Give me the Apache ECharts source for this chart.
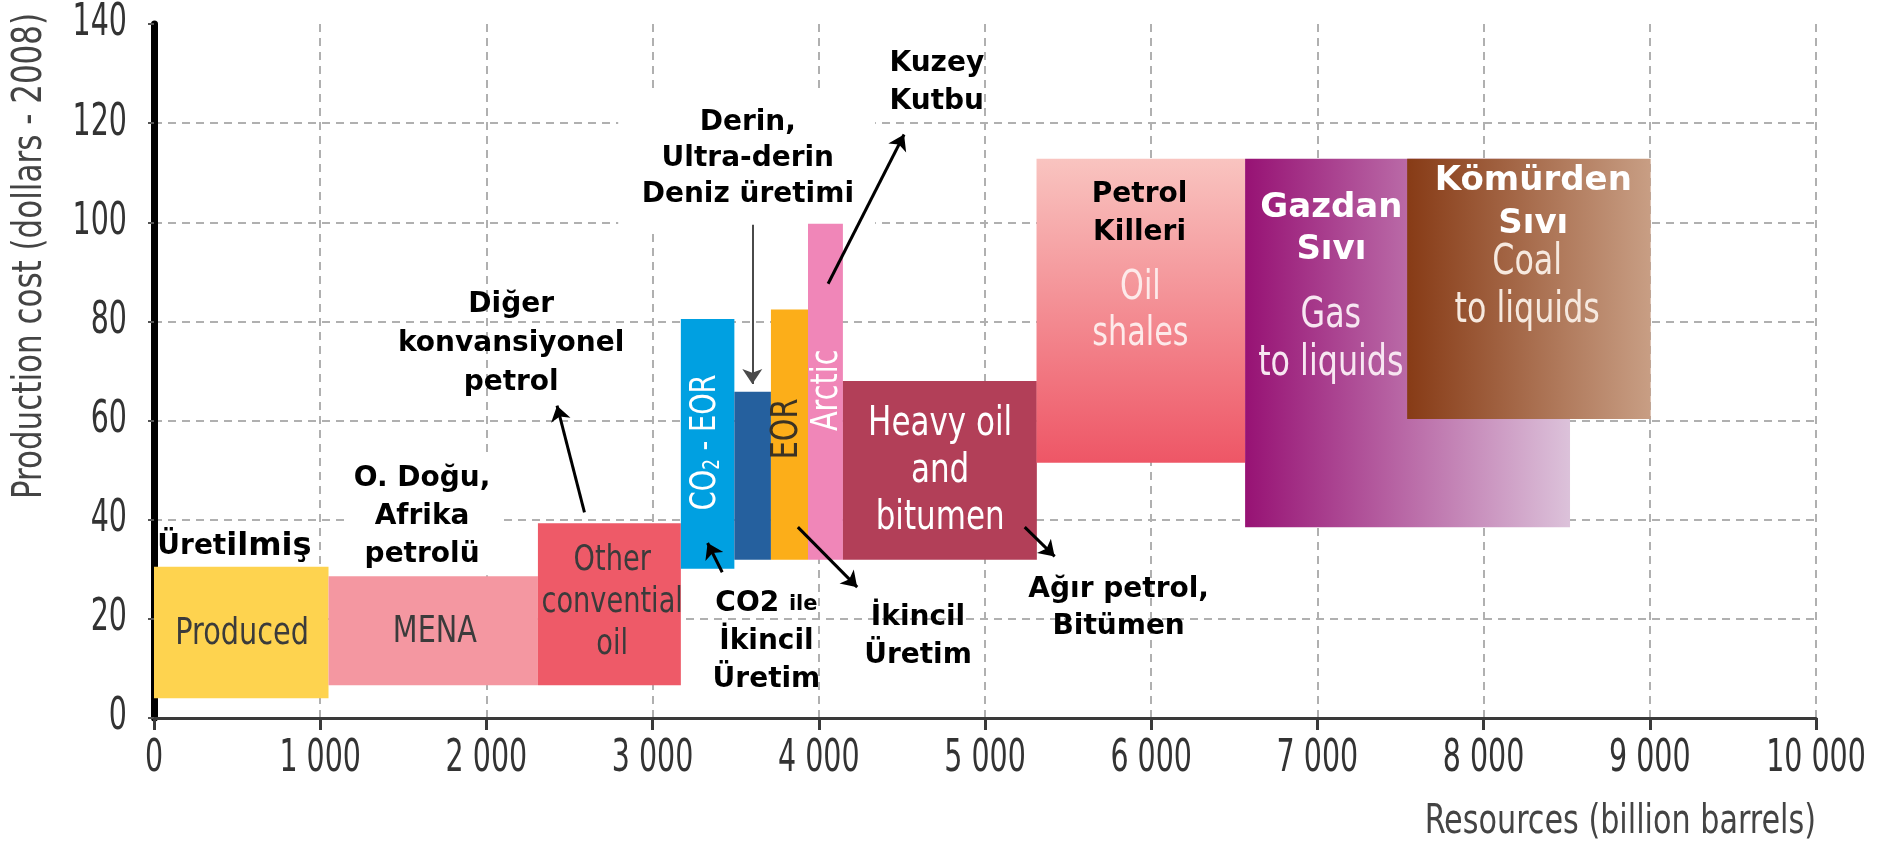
<!DOCTYPE html>
<html>
<head>
<meta charset="utf-8">
<script src="https://cdn.jsdelivr.net/npm/echarts@6/dist/echarts.min.js"></script>
<style>
html, body { margin: 0; padding: 0; background: #fff; }
#chart { width: 1888px; height: 844px; }
</style>
</head>
<body>
<div id="chart"></div>
<script>
// kaynaklar (milyar varil) ve üretim maliyeti (dolar - 2008)
const segNames = ['Produced', 'MENA', 'Other conventional oil', 'CO2 - EOR', 'Deep water', 'EOR', 'Arctic',
  'Heavy oil and bitumen', 'Oil shales', 'Gas to liquids', 'Coal to liquids'];
const resStart = [0, 1050, 2310, 3170, 3492, 3712, 3935, 4145, 5310, 6565, 7540];
const resEnd = [1050, 2310, 3170, 3492, 3712, 3935, 4145, 5312, 6565, 8520, 9005];
const costLow = [4, 6.6, 6.6, 30.1, 31.9, 31.9, 31.9, 31.9, 51.5, 38.5, 60.3];
const costHigh = [30.5, 28.6, 39.3, 80.5, 65.8, 82.4, 99.7, 68, 112.8, 112.8, 112.8];

const xTicks = [0, 1000, 2000, 3000, 4000, 5000, 6000, 7000, 8000, 9000, 10000];
const xTickLabels = ['0', '1 000', '2 000', '3 000', '4 000', '5 000', '6 000', '7 000', '8 000', '9 000', '10 000'];
const yTicks = [0, 20, 40, 60, 80, 100, 120, 140];
const yTickLabels = ['0', '20', '40', '60', '80', '100', '120', '140'];

// kutuların içindeki yazılar
const boxLabelText = ['Produced', 'MENA', 'Other\nconvential\noil', '{a|CO}{s|2}{a| - EOR}', 'EOR', 'Arctic',
  'Heavy oil\nand\nbitumen', 'Oil\nshales', 'Gas\nto liquids', 'Coal\nto liquids'];
const boxLabelX = [530, 1690, 2757, 3320, 3810, 4050, 4730, 5935, 7081, 8262];
const boxLabelY = [17, 17.3, 23.2, 55.6, 58.3, 66.1, 49.8, 82, 76.2, 87];

// Türkçe açıklamalar
const noteText = ['{a|Üret}{b|ilmiş}', 'O. Doğu,\nAfrika\npetrolü', 'Diğer\nkonvansiyonel\npetrol',
  'Derin,\nUltra-derin\nDeniz üretimi', 'Kuzey\nKutbu', '{a|CO2 }{s|ile}\n{a|İkincil}\n{a|Üretim}',
  'İkincil\nÜretim', 'Ağır petrol,\nBitümen', 'Petrol\nKilleri', 'Gazdan\nSıvı', 'Kömürden\nSıvı'];
const noteX = [484, 1613, 2149, 3573, 4710, 3685, 4597, 5804, 5930, 7084, 8299];
const noteY = [34.5, 40.7, 75.5, 112.8, 128.2, 15.3, 16.3, 22.2, 101.8, 98.6, 104];

// oklar
const arrowFrom = [[2590, 41.5], [3600, 99.5], [4056, 87.6], [3419, 29.4], [3874, 38.5], [5239, 38.5]];
const arrowTo = [[2425, 63], [3600, 67.4], [4513, 117.7], [3331, 35.3], [4231, 26.4], [5419, 32.6]];

const narrow = '"DejaVu Sans Condensed", "Liberation Sans", sans-serif';
const boldFont = '"DejaVu Sans", sans-serif';
const squeeze = 0.84; // dar yazı görünümü için
const G = echarts.graphic;

const fills = ['#fed34f', '#f497a1', '#ee5a68', '#00a0e1', '#25609e', '#fcae19', '#f086b8', '#b23f58',
  new G.LinearGradient(0, 0, 0, 1, [{ offset: 0, color: '#f9c4c0' }, { offset: 1, color: '#ee5666' }]),
  new G.LinearGradient(0, 0, 1, 0, [{ offset: 0, color: '#971274' }, { offset: 1, color: '#dcc2da' }]),
  new G.LinearGradient(0, 0, 1, 0, [{ offset: 0, color: '#873b16' }, { offset: 1, color: '#c89e84' }])];

const boxLabelStyle = [
  { size: 38, color: '#3b3b3b' }, { size: 38, color: '#3b3b3b' }, { size: 36, lh: 42, color: '#3b3b3b' },
  { size: 36, color: '#fff', rot: true }, { size: 38, color: '#3b3324', rot: true }, { size: 38, color: '#fff', rot: true },
  { size: 41, lh: 47, color: '#fff' }, { size: 40, lh: 46, color: '#fdeaea' },
  { size: 42, lh: 48, color: '#f7e6f1' }, { size: 42, lh: 48, color: '#f6e9df' }];
const noteStyle = [
  {}, { lh: 38, bg: true }, { lh: 39 }, { lh: 36 }, { lh: 38 }, { lh: 38 }, { lh: 38 }, { lh: 37 }, { lh: 38 },
  { size: 34, lh: 42, color: '#fff' }, { size: 34, lh: 43, color: '#fff' }];

function rectItem(params, api, fill) {
  const p0 = api.coord([api.value(0), api.value(3)]);
  const p1 = api.coord([api.value(1), api.value(2)]);
  return { type: 'rect', shape: { x: p0[0], y: p0[1], width: p1[0] - p0[0], height: p1[1] - p0[1] }, style: { fill: fill } };
}

// eksen yazıları: uzun ve dar rakamlar
function tickText(x, y, text, align) {
  return { type: 'text', x: x, y: y, scaleX: 0.72,
    style: { text: text, fontSize: 44, fontFamily: narrow, fill: '#333', align: align, verticalAlign: 'middle' } };
}

const chart = echarts.init(document.getElementById('chart'));
chart.setOption({
  animation: false,
  grid: { left: 154, right: 72, top: 24, bottom: 126 },
  xAxis: {
    type: 'value', min: 0, max: 10000, interval: 1000,
    axisLine: { lineStyle: { color: '#3a3a3a', width: 3 } },
    axisTick: { length: 12, lineStyle: { color: '#3a3a3a', width: 3 } },
    axisLabel: { show: false },
    splitLine: { show: true, lineStyle: { color: '#b0b0b0', width: 2, type: [8, 6] } }
  },
  yAxis: {
    type: 'value', min: 0, max: 140, interval: 20, offset: 3,
    axisLine: { show: true, lineStyle: { color: '#000', width: 7 } },
    axisTick: { show: true, length: 6, lineStyle: { color: '#555', width: 2 } },
    axisLabel: { show: false },
    splitLine: { show: true, showMaxLine: false, lineStyle: { color: '#b0b0b0', width: 2, type: [8, 6] } }
  },
  graphic: [
    { type: 'text', x: 30, y: 256, rotation: Math.PI / 2, scaleX: squeeze,
      style: { text: 'Production cost (dollars - 2008)', font: '41px ' + narrow, fill: '#444', align: 'center', verticalAlign: 'middle' } },
    { type: 'text', x: 1816, y: 823, scaleX: squeeze,
      style: { text: 'Resources (billion barrels)', font: '40px ' + narrow, fill: '#444', align: 'right', verticalAlign: 'middle' } }
  ],
  series: [
    {
      type: 'custom', silent: true, clip: false,
      data: xTicks.map(v => [v, 0]),
      encode: { x: 0, y: 1 },
      renderItem: (params, api) => {
        const p = api.coord([api.value(0), 0]);
        return tickText(p[0], p[1] + 42, xTickLabels[params.dataIndex], 'center');
      }
    },
    {
      type: 'custom', silent: true, clip: false,
      data: yTicks.map(v => [0, v]),
      encode: { x: 0, y: 1 },
      renderItem: (params, api) => {
        const p = api.coord([0, api.value(1)]);
        return tickText(p[0] - 27, p[1], yTickLabels[params.dataIndex], 'right');
      }
    },
    {
      // açıklama yazısının arkasındaki beyaz alan
      type: 'custom', z: 1, silent: true,
      data: [[2793, 4339, 98, 127]],
      encode: { x: [0, 1], y: [2, 3] },
      renderItem: (params, api) => rectItem(params, api, '#fff')
    },
    {
      type: 'custom', z: 2, name: 'segments',
      data: segNames.map((n, i) => ({ name: n, value: [resStart[i], resEnd[i], costLow[i], costHigh[i]] })),
      encode: { x: [0, 1], y: [2, 3] },
      renderItem: (params, api) => rectItem(params, api, fills[params.dataIndex])
    },
    {
      type: 'lines', coordinateSystem: 'cartesian2d', z: 6, silent: true,
      symbol: ['none', 'arrow'], symbolSize: [0, 15],
      lineStyle: { color: '#000', width: 3, opacity: 1 },
      data: arrowFrom.map((p, i) => ({
        coords: [p, arrowTo[i]],
        lineStyle: i === 1 ? { color: '#4a4a4a', width: 2 } : undefined
      }))
    },
    {
      type: 'custom', z: 8, silent: true,
      data: boxLabelText.map((t, i) => [boxLabelX[i], boxLabelY[i]]),
      encode: { x: 0, y: 1 },
      renderItem: (params, api) => {
        const i = params.dataIndex, s = boxLabelStyle[i];
        const p = api.coord([api.value(0), api.value(1)]);
        const base = { fontSize: s.size, fontFamily: narrow, fill: s.color };
        return {
          type: 'text', x: p[0], y: p[1], rotation: s.rot ? Math.PI / 2 : 0, scaleX: squeeze,
          style: {
            text: boxLabelText[i], fontSize: s.size, fontFamily: narrow, fill: s.color,
            lineHeight: s.lh || s.size * 1.2, align: 'center', verticalAlign: 'middle',
            rich: { a: base, s: { fontSize: s.size * 0.62, fontFamily: narrow, fill: s.color, padding: [14, 0, 0, 0] } }
          }
        };
      }
    },
    {
      type: 'custom', z: 9, silent: true,
      data: noteText.map((t, i) => [noteX[i], noteY[i]]),
      encode: { x: 0, y: 1 },
      renderItem: (params, api) => {
        const i = params.dataIndex, s = noteStyle[i];
        const p = api.coord([api.value(0), api.value(1)]);
        const size = s.size || 28, color = s.color || '#000', lh = s.lh || 38;
        const st = {
          text: noteText[i], fontSize: size, fontFamily: boldFont, fontWeight: 'bold', fill: color,
          lineHeight: lh, align: 'center', verticalAlign: 'middle',
          rich: {
            a: { fontSize: size, fontFamily: boldFont, fontWeight: 'bold', fill: color, lineHeight: lh },
            b: { fontSize: 32, fontFamily: boldFont, fontWeight: 'bold', fill: color, lineHeight: lh },
            s: { fontSize: 21, fontFamily: boldFont, fontWeight: 'bold', fill: color, lineHeight: lh }
          }
        };
        if (s.bg) { st.backgroundColor = '#fff'; st.padding = [2, 8]; }
        return { type: 'text', x: p[0], y: p[1], style: st };
      }
    }
  ]
});
</script>
</body>
</html>
